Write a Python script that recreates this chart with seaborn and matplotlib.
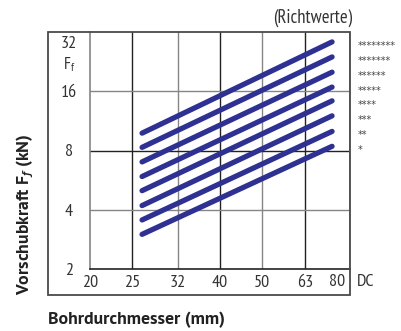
import numpy as np
import pandas as pd
import matplotlib
matplotlib.use("Agg")
import matplotlib.pyplot as plt
import matplotlib.transforms as mtransforms
from matplotlib.patches import Rectangle
import seaborn as sns

# --- DATA ---
D_START = 26.4
D_END = 72.7
F_START = [3.0, 3.55, 4.2, 5.0, 5.9, 7.0, 8.3, 9.8]
F_END = [8.4, 10.0, 12.0, 14.3, 16.8, 20.0, 23.9, 28.5]
STARS = ["*", "**", "***", "****", "*****", "******", "*******", "********"]

X_TICKS = [20, 25, 32, 40, 50, 63]
X_TICK_LABELS = ["20", "25", "32", "40", "50", "63"]
Y_TICKS = [2, 4, 8, 16]
Y_TICK_LABELS = ["2", "4", "8", "16"]

# --- STYLE ---
BLUE = "#2E3192"
GRAY = "#858585"
DARK = "#222222"
FRAME = "#4a4a4a"
TXT = "#333333"
BOLD_FONT = ["PT Sans", "DejaVu Sans"]
TICK_FS = 13
W, H = 401, 331

sns.set_style("white")
plt.rcParams["font.family"] = ["PT Sans Narrow", "DejaVu Sans"]
plt.rcParams["mathtext.fontset"] = "custom"
plt.rcParams["mathtext.rm"] = "PT Sans Narrow"
plt.rcParams["mathtext.it"] = "PT Sans:italic:bold"

rows = []
for i in range(len(F_START)):
    rows.append({"line": i, "D": D_START, "F": F_START[i]})
    rows.append({"line": i, "D": D_END, "F": F_END[i]})
df = pd.DataFrame(rows)

fig = plt.figure(figsize=(W / 100, H / 100), dpi=100)


def fx(px):
    return px / W


def fy(py):
    return 1 - py / H


# outer frame
frame = Rectangle((fx(48), fy(295)), fx(350) - fx(48), fy(32) - fy(295),
                  transform=fig.transFigure, fill=False, edgecolor=FRAME, lw=1.3)
fig.patches.append(frame)

ax = fig.add_axes([fx(90), fy(269), fx(350) - fx(90), fy(32) - fy(269)])
ax.set_xscale("log")
ax.set_yscale("log")
ax.set_xlim(20, 80)
ax.set_ylim(2, 32)

# grid lines with alternating colours
for i, xv in enumerate(X_TICKS[1:]):
    ax.axvline(xv, color=DARK if i % 2 == 0 else GRAY, lw=1.0, zorder=1)
for yv, c in zip([4, 8, 16], [GRAY, DARK, GRAY]):
    ax.axhline(yv, color=c, lw=1.0, zorder=1)
ax.axvline(80, color=GRAY, lw=1.2, zorder=1)

sns.lineplot(data=df, x="D", y="F", units="line", estimator=None, color=BLUE,
             lw=3.8, solid_capstyle="round", ax=ax, legend=False, zorder=3)

for s in ["top", "right"]:
    ax.spines[s].set_visible(False)
ax.spines["left"].set_color(GRAY)
ax.spines["left"].set_linewidth(1.2)
ax.spines["bottom"].set_color(DARK)
ax.spines["bottom"].set_linewidth(1.2)

ax.set_xticks(X_TICKS)
ax.set_xticklabels(X_TICK_LABELS)
ax.set_yticks(Y_TICKS)
ax.set_yticklabels(Y_TICK_LABELS)
ax.minorticks_off()
ax.tick_params(axis="x", length=0, pad=4, labelsize=TICK_FS, labelcolor=TXT)
ax.tick_params(axis="y", length=0, pad=15, labelsize=TICK_FS, labelcolor=TXT)
for lab in ax.get_yticklabels():
    lab.set_ha("center")
ax.set_xlabel("")
ax.set_ylabel("")

trans_y = mtransforms.blended_transform_factory(ax.transAxes, ax.transData)
x_lab = -21 / 260
ax.text(x_lab, 32, "32", transform=mtransforms.offset_copy(trans_y, fig=fig, y=-12, units="dots"),
        ha="center", va="center", fontsize=TICK_FS, color=TXT)
ax.text(x_lab, 32, "F$_\\mathregular{f}$", transform=mtransforms.offset_copy(trans_y, fig=fig, y=-33, units="dots"),
        ha="center", va="center", fontsize=12, color=TXT)

trans_x = mtransforms.blended_transform_factory(ax.transData, ax.transAxes)
ax.text(80, 0, "80", transform=mtransforms.offset_copy(trans_x, fig=fig, x=-12.5, y=-13.5, units="dots"),
        ha="center", va="center", fontsize=TICK_FS, color=TXT)
ax.text(80, 0, "DC", transform=mtransforms.offset_copy(trans_x, fig=fig, x=7, y=-13.5, units="dots"),
        ha="left", va="center", fontsize=TICK_FS, color=TXT)

# star labels beside the line ends
trans_s = mtransforms.offset_copy(trans_y, fig=fig, x=0, y=-4, units="dots")
for fe, st in zip(F_END, STARS):
    ax.text(1.03, fe, st, transform=trans_s, ha="left", va="center",
            fontsize=7, color="#444444", family="DejaVu Sans")

fig.text(fx(313), fy(18), "(Richtwerte)", ha="center", va="center", fontsize=13.5, color=TXT)
fig.text(fx(48), fy(320), "Bohrdurchmesser (mm)", ha="left", va="center",
         fontsize=12.8, fontweight="bold", color="#222222", family=BOLD_FONT)
fig.text(fx(25.5), fy(295), "Vorschubkraft F$_\\mathit{f}$ (kN)", ha="center", va="bottom", rotation=90,
         fontsize=12.8, fontweight="bold", color="#222222", family=BOLD_FONT)

fig.savefig("out.png", dpi=100)
